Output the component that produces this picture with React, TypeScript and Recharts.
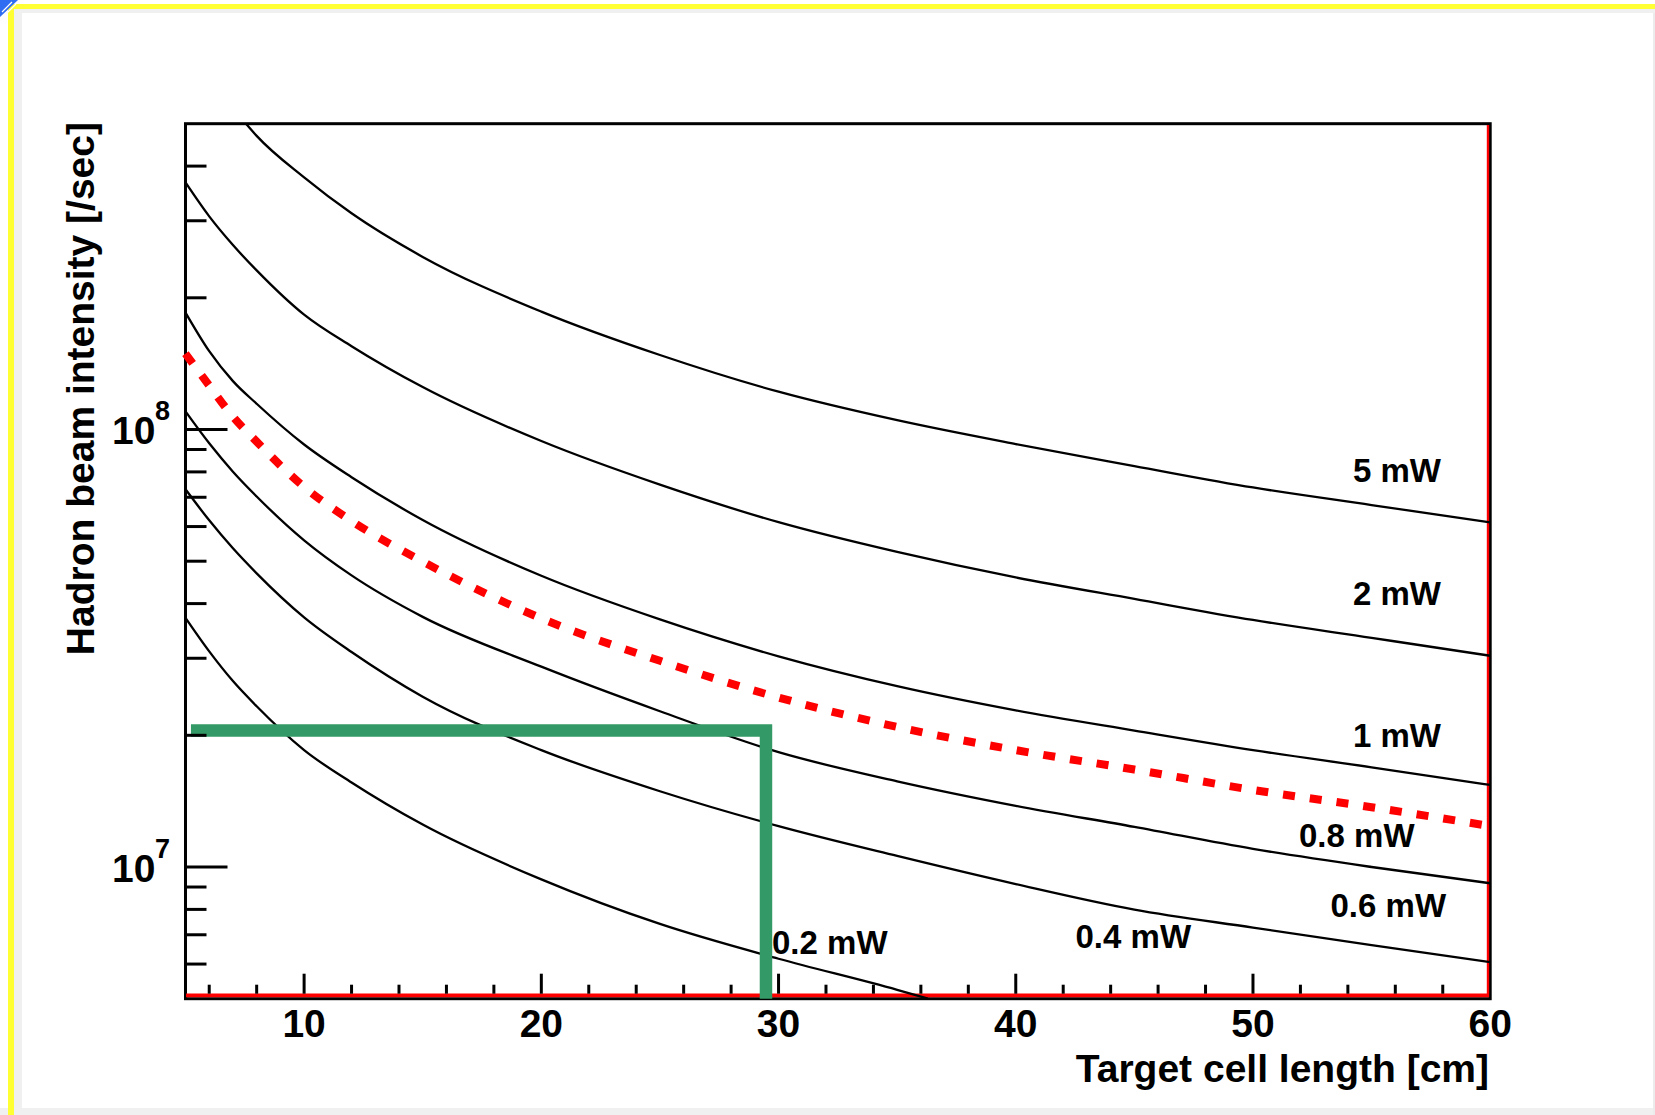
import { LineChart, Line, XAxis, YAxis } from 'recharts';

const FONT = '"Liberation Sans", Arial, Helvetica, sans-serif';

// target cell length [cm] at which each curve is sampled
const cellLength = [5, 6, 7, 8, 10, 12, 15, 20, 25, 30, 35, 40, 45, 50, 55, 60];
const cellLength5mW = [7.55, 8, 10, 12, 15, 20, 25, 30, 35, 40, 45, 50, 55, 60];
const cellLength02mW = [5, 6, 7, 8, 10, 12, 15, 20, 25, 30, 35, 36.3];

// hadron beam intensity [/sec] allowed for each heat load
const intensity5mW = [5.0e8, 4.69e8, 3.77e8, 3.12e8, 2.48e8, 1.86e8, 1.48e8, 1.22e8, 1.05e8, 9.26e7, 8.25e7, 7.37e7, 6.72e7, 6.13e7];
const intensity2mW = [3.67e8, 3.07e8, 2.64e8, 2.31e8, 1.83e8, 1.55e8, 1.25e8, 9.41e7, 7.48e7, 6.14e7, 5.25e7, 4.59e7, 4.1e7, 3.67e7, 3.34e7, 3.04e7];
const intensity1mW = [1.85e8, 1.51e8, 1.29e8, 1.145e8, 9.24e7, 7.78e7, 6.21e7, 4.63e7, 3.68e7, 3.03e7, 2.59e7, 2.28e7, 2.05e7, 1.85e7, 1.69e7, 1.54e7];
const intensity08mW = [1.49e8, 1.26e8, 1.07e8, 9.38e7, 7.39e7, 6.18e7, 4.99e7, 3.7e7, 2.96e7, 2.44e7, 2.09e7, 1.85e7, 1.67e7, 1.5e7, 1.37e7, 1.24e7];
const intensity06mW = [1.1e8, 9.3e7, 8.01e7, 7.03e7, 5.58e7, 4.64e7, 3.73e7, 2.87e7, 2.27e7, 1.83e7, 1.57e7, 1.38e7, 1.235e7, 1.1e7, 1.0e7, 9.18e6];
const intensity04mW = [7.3e7, 6.2e7, 5.35e7, 4.69e7, 3.72e7, 3.1e7, 2.45e7, 1.85e7, 1.49e7, 1.24e7, 1.06e7, 9.14e6, 7.99e6, 7.27e6, 6.63e6, 6.06e6];
const intensity02mW = [3.71e7, 3.11e7, 2.66e7, 2.33e7, 1.85e7, 1.56e7, 1.25e7, 9.37e6, 7.41e6, 6.17e6, 5.24e6, 5.0e6];

// operating point guide: 2x10^7 /sec at ~30 cm
const guideLength = [5.23, 29.47, 29.47];
const guideIntensity = [2.05e7, 2.05e7, 5.0e6];

const xTicks = [6, 8, 10, 12, 14, 16, 18, 20, 22, 24, 26, 28, 30, 32, 34, 36, 38, 40, 42, 44, 46, 48, 50, 52, 54, 56, 58, 60];
const yTicks = [
  6e6, 7e6, 8e6, 9e6, 1e7,
  2e7, 3e7, 4e7, 5e7, 6e7, 7e7, 8e7, 9e7, 1e8,
  2e8, 3e8, 4e8,
];

const toPoints = (xs: number[], ys: number[]) => xs.map((x, i) => ({ x, y: ys[i] }));

const blackCurves = [
  { key: '5mW', data: toPoints(cellLength5mW, intensity5mW) },
  { key: '2mW', data: toPoints(cellLength, intensity2mW) },
  { key: '1mW', data: toPoints(cellLength, intensity1mW) },
  { key: '0.6mW', data: toPoints(cellLength, intensity06mW) },
  { key: '0.4mW', data: toPoints(cellLength, intensity04mW) },
  { key: '0.2mW', data: toPoints(cellLength02mW, intensity02mW) },
];

// ticks point into the frame; tick y/x arrive at the frame edge (tickSize and tickMargin are 0)
function XTick(props: any) {
  const { x, y, payload } = props;
  const major = payload.value % 10 === 0;
  return (
    <g>
      {payload.value !== 60 && (
        <line x1={x} x2={x} y1={y - 5} y2={y - (major ? 25 : 14)} stroke="#000" strokeWidth={3} />
      )}
      {major && (
        <text x={x} y={y + 38.5} textAnchor="middle" fontFamily={FONT} fontWeight="bold" fontSize={39} fill="#000">
          {payload.value}
        </text>
      )}
    </g>
  );
}

function YTick(props: any) {
  const { x, y, payload } = props;
  const exp = Math.log10(payload.value);
  const major = Math.abs(exp - Math.round(exp)) < 1e-6;
  return (
    <g>
      <line x1={x} x2={x + (major ? 42 : 21)} y1={y} y2={y} stroke="#000" strokeWidth={3} />
      {major && (
        <>
          <text x={x - 30} y={y + 15} textAnchor="end" fontFamily={FONT} fontWeight="bold" fontSize={39} fill="#000">
            10
          </text>
          <text x={x - 30.5} y={y - 9} fontFamily={FONT} fontWeight="bold" fontSize={27} fill="#000">
            {Math.round(exp)}
          </text>
        </>
      )}
    </g>
  );
}

const labelStyle = { fontFamily: FONT, fontWeight: 'bold' as const, fontSize: 33, fill: '#000' };

function Backdrop() {
  return (
    <svg width={1655} height={1115} style={{ position: 'absolute', left: 0, top: 0 }}>
      <rect x={0} y={0} width={1655} height={1115} fill="#fff" />
      {/* window edges */}
      <rect x={14} y={9} width={1641} height={4} fill="#f0f0f0" />
      <rect x={14} y={9} width={8} height={1106} fill="#f0f0f0" />
      <rect x={0} y={1108} width={1655} height={7} fill="#f0f0f0" />
      <rect x={1653} y={13} width={2} height={1102} fill="#ececec" />
      <rect x={8} y={4} width={1647} height={5} fill="#ffff33" />
      <rect x={8} y={4} width={6} height={1111} fill="#ffff33" />
      <path d="M0,0 L18,0 L0,17 Z" fill="#2f6df2" />
      <path d="M2,12 L12,2 M6,14 L16,4" stroke="#fff" strokeWidth={1.2} />

      {/* frame */}
      <rect x={185.5} y={123.7} width={1304.7} height={875} fill="none" stroke="#000" strokeWidth={3} />
      <line x1={186} x2={1489} y1={995.3} y2={995.3} stroke="#ff0000" strokeWidth={3.8} />
      <line x1={1488} x2={1488} y1={125} y2={997} stroke="#ff0000" strokeWidth={2.4} />

      {/* axis titles */}
      <text x={1489} y={1082} textAnchor="end" fontFamily={FONT} fontWeight="bold" fontSize={39} fill="#000">
        Target cell length [cm]
      </text>
      <text
        transform="translate(93.5,122) rotate(-90)"
        textAnchor="end"
        fontFamily={FONT}
        fontWeight="bold"
        fontSize={39}
        fill="#000"
      >
        Hadron beam intensity [/sec]
      </text>

      {/* heat load labels */}
      <text x={1441} y={482} textAnchor="end" {...labelStyle}>5 mW</text>
      <text x={1441} y={605} textAnchor="end" {...labelStyle}>2 mW</text>
      <text x={1441} y={747} textAnchor="end" {...labelStyle}>1 mW</text>
      <text x={1299} y={847} {...labelStyle}>0.8 mW</text>
      <text x={1330.5} y={917} {...labelStyle}>0.6 mW</text>
      <text x={1075.5} y={948} {...labelStyle}>0.4 mW</text>
      <text x={772} y={954} {...labelStyle}>0.2 mW</text>
    </svg>
  );
}

export default function App() {
  return (
    <div style={{ position: 'absolute', left: 0, top: 0, width: 1655, height: 1115, overflow: 'hidden' }}>
      <Backdrop />
      <div style={{ position: 'absolute', left: 0, top: 0 }}>
        <LineChart
          width={1655}
          height={1115}
          margin={{ top: 123.7, right: 164.8, bottom: 56.3, left: 125.5 }}
        >
          <XAxis
            dataKey="x"
            type="number"
            domain={[5, 60]}
            ticks={xTicks}
            interval={0}
            height={60}
            tickSize={0}
            tickMargin={0}
            tickLine={false}
            axisLine={false}
            tick={XTick}
          />
          <YAxis
            dataKey="y"
            type="number"
            scale="log"
            domain={[5e6, 5e8]}
            ticks={yTicks}
            interval={0}
            width={60}
            tickSize={0}
            tickMargin={0}
            tickLine={false}
            axisLine={false}
            tick={YTick}
          />
          {blackCurves.map((c) => (
            <Line
              key={c.key}
              data={c.data}
              dataKey="y"
              type="monotone"
              stroke="#000"
              strokeWidth={2.3}
              dot={false}
              activeDot={false}
              isAnimationActive={false}
            />
          ))}
          <Line
            data={toPoints(cellLength, intensity08mW)}
            dataKey="y"
            type="monotone"
            stroke="#ff0000"
            strokeWidth={8}
            strokeDasharray="12 15"
            dot={false}
            activeDot={false}
            isAnimationActive={false}
          />
          <Line
            data={toPoints(guideLength, guideIntensity)}
            dataKey="y"
            type="linear"
            stroke="#339966"
            strokeWidth={12.5}
            strokeLinejoin="miter"
            dot={false}
            activeDot={false}
            isAnimationActive={false}
          />
        </LineChart>
      </div>
    </div>
  );
}
